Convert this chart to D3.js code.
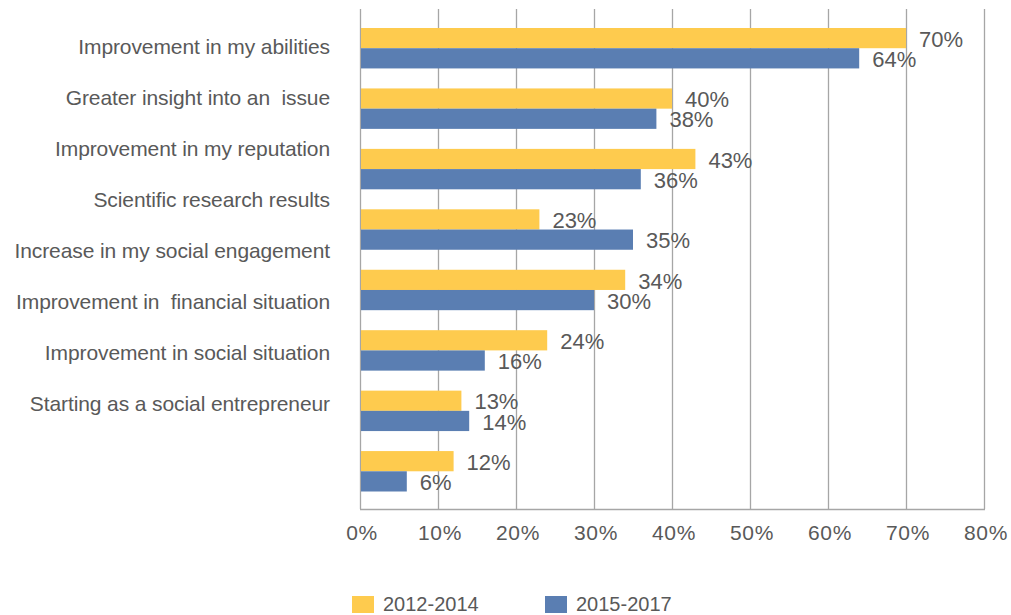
<!DOCTYPE html>
<html>
<head>
<meta charset="utf-8">
<script src="https://cdn.jsdelivr.net/npm/d3@7"></script>
<style>
  html, body { margin: 0; padding: 0; background: #ffffff; }
  svg { display: block; }
  text { font-family: "Liberation Sans", Arial, sans-serif; fill: #595959; }
</style>
</head>
<body>
<svg id="chart" width="1011" height="615"></svg>
<script>
// Outcomes reported, share of respondents per period
const categories = [
  "Improvement in my abilities",
  "Greater insight into an  issue",
  "Improvement in my reputation",
  "Scientific research results",
  "Increase in my social engagement",
  "Improvement in  financial situation",
  "Improvement in social situation",
  "Starting as a social entrepreneur"
];
const seriesNames = ["2012-2014", "2015-2017"];
const values2012_2014 = [0.70, 0.40, 0.43, 0.23, 0.34, 0.24, 0.13, 0.12];
const values2015_2017 = [0.64, 0.38, 0.36, 0.35, 0.30, 0.16, 0.14, 0.06];
const xTicks = [0, 0.1, 0.2, 0.3, 0.4, 0.5, 0.6, 0.7, 0.8];
const colors = ["#FECB4E", "#5A7EB2"];

const svg = d3.select("#chart");

const plot = { left: 360, right: 984, top: 9, bottom: 509 };

const x = d3.scaleLinear().domain([0, 0.8]).range([plot.left, plot.right]);

// bar groups
const groupIdx = d3.range(values2012_2014.length);
const y = d3.scaleBand()
  .domain(groupIdx)
  .range([28, 491.5])
  .paddingInner(0.331)
  .paddingOuter(0)
  .align(0);
const ySeries = d3.scaleBand().domain([0, 1]).range([0, y.bandwidth()]).padding(0);

// category labels down the left side
const yLabel = d3.scalePoint().domain(categories).range([47, 403.3]);

// vertical gridlines
svg.append("g")
  .selectAll("line")
  .data(xTicks)
  .join("line")
  .attr("x1", d => Math.round(x(d)) + 0.5)
  .attr("x2", d => Math.round(x(d)) + 0.5)
  .attr("y1", plot.top)
  .attr("y2", plot.bottom)
  .attr("stroke", "#A6A6A6")
  .attr("stroke-width", 1.3);

// bottom axis line
svg.append("line")
  .attr("x1", plot.left)
  .attr("x2", plot.right + 1)
  .attr("y1", plot.bottom + 0.5)
  .attr("y2", plot.bottom + 0.5)
  .attr("stroke", "#A6A6A6")
  .attr("stroke-width", 1.3);

const rows = groupIdx.map(i => ({ i, vals: [values2012_2014[i], values2015_2017[i]] }));

const groups = svg.append("g")
  .selectAll("g")
  .data(rows)
  .join("g")
  .attr("transform", d => `translate(0,${y(d.i)})`);

groups.selectAll("rect")
  .data(d => d.vals.map((v, s) => ({ v, s })))
  .join("rect")
  .attr("x", x(0) + 1)
  .attr("y", d => ySeries(d.s))
  .attr("width", d => x(d.v) - x(0) - 1)
  .attr("height", ySeries.bandwidth())
  .attr("fill", d => colors[d.s]);

groups.selectAll("text")
  .data(d => d.vals.map((v, s) => ({ v, s })))
  .join("text")
  .attr("x", d => x(d.v) + 13)
  .attr("y", d => ySeries(d.s) + ySeries.bandwidth() / 2 + 1)
  .attr("dy", "0.35em")
  .attr("font-size", 22)
  .text(d => Math.round(d.v * 100) + "%");

// category labels
svg.append("g")
  .selectAll("text")
  .data(categories)
  .join("text")
  .attr("x", 330)
  .attr("y", d => yLabel(d))
  .attr("dy", "0.35em")
  .attr("text-anchor", "end")
  .attr("font-size", 21)
  .attr("letter-spacing", "-0.1px")
  .style("white-space", "pre")
  .text(d => d);

// x tick labels
svg.append("g")
  .selectAll("text")
  .data(xTicks)
  .join("text")
  .attr("x", d => x(d) + 2)
  .attr("y", 533)
  .attr("dy", "0.35em")
  .attr("text-anchor", "middle")
  .attr("font-size", 21)
  .attr("letter-spacing", "0.6px")
  .text(d => Math.round(d * 100) + "%");

// legend
const legend = svg.append("g")
  .selectAll("g")
  .data(seriesNames)
  .join("g")
  .attr("transform", (d, i) => `translate(${352 + i * 193},596)`);

legend.append("rect")
  .attr("width", 22)
  .attr("height", 17)
  .attr("fill", (d, i) => colors[i]);

legend.append("text")
  .attr("x", 31)
  .attr("y", 8)
  .attr("dy", "0.35em")
  .attr("font-size", 20)
  .text(d => d);
</script>
</body>
</html>
